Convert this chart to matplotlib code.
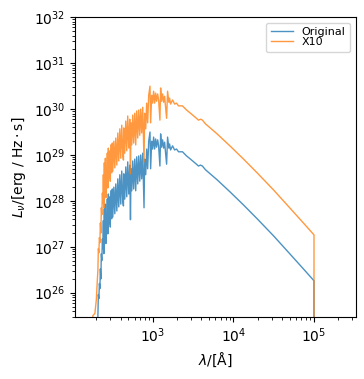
"""Luminosity spectrum of the original SED and the same SED scaled by ten."""

import matplotlib
matplotlib.use("Agg")
import matplotlib.pyplot as plt
import numpy as np

# values, in log10 units
LOG_WAVE = [
    2.235, 2.259, 2.284, 2.302, 2.315, 2.321, 2.327, 2.333, 2.340, 2.346,
    2.352, 2.358, 2.364, 2.370, 2.377, 2.383, 2.389, 2.395, 2.401, 2.407,
    2.414, 2.420, 2.426, 2.432, 2.438, 2.444, 2.451, 2.457, 2.469, 2.475,
    2.481, 2.494, 2.500, 2.506, 2.519, 2.531, 2.543, 2.556, 2.568, 2.580,
    2.593, 2.605, 2.617, 2.630, 2.638, 2.642, 2.654, 2.667, 2.679, 2.691,
    2.704, 2.716, 2.725, 2.732, 2.741, 2.753, 2.765, 2.778, 2.790, 2.802,
    2.815, 2.827, 2.840, 2.852, 2.864, 2.877, 2.893, 2.901, 2.914, 2.926,
    2.938, 2.951, 2.967, 2.975, 2.988, 3.000, 3.012, 3.025, 3.037, 3.049,
    3.062, 3.074, 3.090, 3.099, 3.111, 3.123, 3.136, 3.148, 3.173, 3.185,
    3.201, 3.210, 3.222, 3.247, 3.272, 3.296, 3.321, 3.370, 3.420, 3.469,
    3.543, 3.568, 3.593, 3.617, 3.654, 3.799, 3.963, 4.127, 4.296, 4.498,
    4.704, 4.868, 5.000, 5.000,
]
LOG_LUM = [
    23.00, 24.50, 24.55, 24.85, 25.30, 25.48, 25.96, 25.87, 26.20, 26.09,
    26.52, 26.30, 26.85, 26.70, 27.17, 26.96, 27.57, 26.85, 27.83, 27.17,
    27.93, 27.07, 27.72, 27.35, 28.04, 27.28, 28.15, 27.50, 28.09, 27.43,
    28.22, 27.61, 28.26, 27.65, 28.30, 27.72, 28.37, 27.78, 28.48, 27.87,
    28.57, 27.93, 28.65, 27.98, 27.89, 28.59, 28.04, 28.74, 28.09, 28.85,
    28.15, 28.78, 27.59, 28.70, 28.22, 28.87, 28.26, 28.91, 28.22, 28.96,
    28.37, 28.98, 28.43, 29.00, 28.48, 29.04, 27.85, 28.91, 28.57, 29.13,
    28.70, 29.30, 29.50, 28.70, 29.30, 29.13, 29.39, 29.13, 29.35, 29.17,
    29.33, 29.20, 28.76, 29.46, 29.17, 29.33, 29.15, 29.28, 28.80, 29.39,
    29.15, 29.24, 29.11, 29.20, 29.11, 29.13, 29.07, 29.07, 28.98, 28.91,
    28.80, 28.76, 28.78, 28.76, 28.68, 28.46, 28.19, 27.91, 27.61, 27.24,
    26.84, 26.52, 26.26, 20.00,
]
SCALE = 10
LABELS = ["Original", "X10"]

wave = 10 ** np.array(LOG_WAVE)
lum = 10 ** np.array(LOG_LUM)

fig = plt.figure(figsize=(3.64, 3.79), dpi=100)
ax = fig.add_axes([75 / 364, 1 - 316.7 / 379, 280.5 / 364, 299.4 / 379])

ax.plot(wave, lum, color="#1f77b4", alpha=0.8, lw=1.0, label=LABELS[0])
ax.plot(wave, lum * SCALE, color="#ff7f0e", alpha=0.8, lw=1.0, label=LABELS[1])

ax.set_xscale("log")
ax.set_yscale("log")
ax.set_xlim(109, 3.27e5)
ax.set_ylim(3e25, 1e32)
ax.set_xlabel(r"$\lambda/[{\rm \AA}]$")
ax.set_ylabel(r"$L_{\nu}/[{\rm erg\ /\ Hz\cdot s}]$")
ax.legend(loc="upper right", fontsize=8, labelspacing=0)

fig.savefig("out.png", dpi=100)
